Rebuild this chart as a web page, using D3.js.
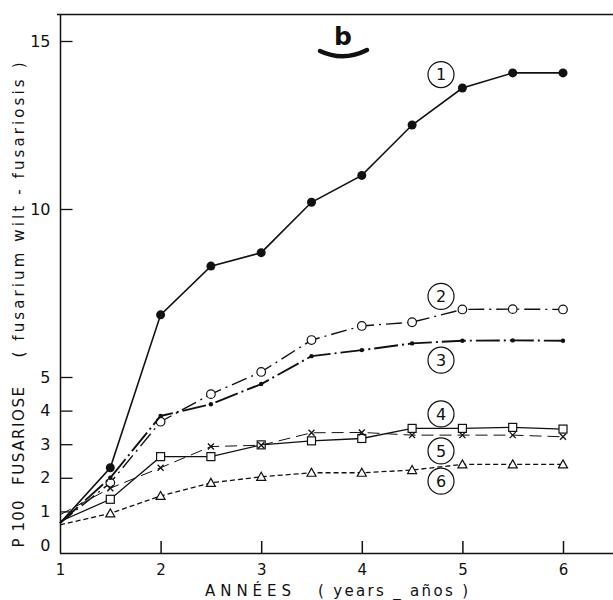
<!DOCTYPE html>
<html>
<head>
<meta charset="utf-8">
<script src="https://cdnjs.cloudflare.com/ajax/libs/d3/7.8.5/d3.min.js"></script>
<style>
  body { margin: 0; background: #fff; }
  svg { display: block; }
  text { font-family: "DejaVu Sans", sans-serif; fill: #111; }
</style>
</head>
<body>
<svg class="chart" width="613" height="600"></svg>
<script>

// years on the x axis
const years = [1, 1.5, 2, 2.5, 3, 3.5, 4, 4.5, 5, 5.5, 6];

// percent fusariosis, one array per curve
const s1 = [0.65, 2.3, 6.85, 8.3, 8.7, 10.2, 11.0, 12.5, 13.6, 14.05, 14.05];
const s2 = [0.65, 1.85, 3.67, 4.49, 5.15, 6.1, 6.52, 6.63, 7.01, 7.02, 7.01];
const s3 = [0.65, 2.0, 3.84, 4.19, 4.79, 5.62, 5.8, 6.0, 6.08, 6.09, 6.08];
const s4 = [0.7, 1.36, 2.63, 2.63, 2.98, 3.1, 3.17, 3.47, 3.47, 3.5, 3.45];
const s5 = [0.9, 1.69, 2.3, 2.93, 2.97, 3.34, 3.35, 3.27, 3.27, 3.27, 3.22];
const s6 = [0.6, 0.94, 1.46, 1.85, 2.03, 2.15, 2.15, 2.23, 2.4, 2.4, 2.4];

const curveLabels = ["1", "2", "3", "4", "5", "6"];
const labelY = [14.0, 7.4, 5.5, 3.9, 2.8, 1.9];   // where the circled numbers sit (data units)

const yTicks = [0, 1, 2, 3, 4, 5, 10, 15];
const xTicks = [1, 2, 3, 4, 5, 6];

const svg = d3.select('.chart');

const x = d3.scaleLinear().domain([1, 6]).range([60, 563]);
const y = d3.scaleLinear().domain([0, 15]).range([545, 41]);

const axisY = 553;

// frame
svg.append('path')
    .attr('d', `M57,14.5 H613 M60.5,14 V${axisY} M60,${axisY + .5} H613`)
    .attr('stroke', '#111')
    .attr('stroke-width', 1.5)
    .attr('fill', 'none');

// y axis
const gy = svg.append('g')
    .attr('transform', 'translate(60.5,0)')
    .call(d3.axisLeft(y).tickValues(yTicks).tickSize(-12).tickPadding(10).tickFormat(d3.format('d')));
gy.select('.domain').remove();
gy.selectAll('.tick line').attr('stroke', '#111').attr('stroke-width', 1.3)
    .filter(d => d === 0).remove();
gy.selectAll('.tick text').attr('font-size', 16).attr('font-family', '"DejaVu Sans", sans-serif');

// x axis
const gx = svg.append('g')
    .attr('transform', `translate(0,${axisY})`)
    .call(d3.axisBottom(x).tickValues(xTicks).tickSize(-12).tickPadding(11).tickFormat(d3.format('d')));
gx.select('.domain').remove();
gx.selectAll('.tick line').attr('stroke', '#111').attr('stroke-width', 1.5)
    .filter(d => d === 1).remove();
gx.selectAll('.tick text').attr('font-size', 15).attr('font-family', '"DejaVu Sans", sans-serif');

// axis titles
svg.append('text')
    .attr('x', 205).attr('y', 596)
    .attr('font-size', 15)
    .attr('textLength', 86).attr('lengthAdjust', 'spacing')
    .text('ANNÉES');
svg.append('text')
    .attr('x', 318).attr('y', 596)
    .attr('font-size', 15)
    .attr('textLength', 150).attr('lengthAdjust', 'spacing')
    .text('( years _ años )');

const ytitle = [
    { t: 'P 100', c: 524, len: 47 },
    { t: 'FUSARIOSE', c: 436, len: 98 },
    { t: '( fusarium  wilt  -  fusariosis )', c: 210, len: 295 }
];
svg.selectAll('.ytitle')
    .data(ytitle)
    .join('text')
    .attr('class', 'ytitle')
    .attr('transform', d => `translate(24,${d.c}) rotate(-90)`)
    .attr('text-anchor', 'middle')
    .attr('font-size', 15)
    .attr('textLength', d => d.len).attr('lengthAdjust', 'spacing')
    .text(d => d.t);

// "b" panel mark
svg.append('text')
    .attr('x', 343).attr('y', 45)
    .attr('text-anchor', 'middle')
    .attr('font-family', '"DejaVu Serif", serif')
    .attr('font-weight', 'bold')
    .attr('font-size', 25)
    .text('b');
svg.append('path')
    .attr('d', 'M320,51 Q343,62 367,50')
    .attr('stroke', '#111')
    .attr('stroke-width', 4.5)
    .attr('stroke-linecap', 'round')
    .attr('fill', 'none');

// curves
const series = [
    { v: s1, dash: null, w: 1.6, mark: 'dot' },
    { v: s2, dash: '16,5,2,5', w: 1.4, mark: 'circle' },
    { v: s3, dash: '24,4,2,4', w: 1.9, mark: 'small' },
    { v: s4, dash: null, w: 1.3, mark: 'square' },
    { v: s5, dash: '12,6', w: 1.0, mark: 'cross' },
    { v: s6, dash: '5,3', w: 1.3, mark: 'tri' }
];

const line = d3.line().x(d => x(d[0])).y(d => y(d[1]));

series.forEach(s => {
    const pts = years.map((yr, i) => [yr, s.v[i]]);

    svg.append('path')
        .datum(pts)
        .attr('d', line)
        .attr('fill', 'none')
        .attr('stroke', '#111')
        .attr('stroke-width', s.w)
        .attr('stroke-dasharray', s.dash);

    const g = svg.append('g');
    const marks = g.selectAll('g')
        .data(pts.slice(1))
        .join('g')
        .attr('transform', d => `translate(${x(d[0])},${y(d[1])})`);

    if (s.mark === 'dot') {
        marks.append('circle').attr('r', 4.5).attr('fill', '#111');
    } else if (s.mark === 'circle') {
        marks.append('circle').attr('r', 4.3).attr('fill', '#fff').attr('stroke', '#111').attr('stroke-width', 1.2);
    } else if (s.mark === 'small') {
        marks.append('circle').attr('r', 2.2).attr('fill', '#111');
    } else if (s.mark === 'square') {
        marks.append('rect').attr('x', -4).attr('y', -4).attr('width', 8).attr('height', 8)
            .attr('fill', '#fff').attr('stroke', '#111').attr('stroke-width', 1.2);
    } else if (s.mark === 'cross') {
        marks.append('path').attr('d', 'M-3,-3 L3,3 M3,-3 L-3,3')
            .attr('stroke', '#111').attr('stroke-width', 1.3);
    } else if (s.mark === 'tri') {
        marks.append('path').attr('d', 'M0,-4.5 L4.5,3.5 L-4.5,3.5 Z')
            .attr('fill', '#fff').attr('stroke', '#111').attr('stroke-width', 1.2);
    }
});

// circled curve numbers
const lab = svg.selectAll('.lab')
    .data(curveLabels)
    .join('g')
    .attr('class', 'lab')
    .attr('transform', (d, i) => `translate(441,${y(labelY[i])})`);
lab.append('circle')
    .attr('r', 13)
    .attr('fill', '#fff')
    .attr('stroke', '#111')
    .attr('stroke-width', 1.2);
lab.append('text')
    .attr('text-anchor', 'middle')
    .attr('dy', '0.36em')
    .attr('font-size', 16)
    .text(d => d);

</script>
</body>
</html>
